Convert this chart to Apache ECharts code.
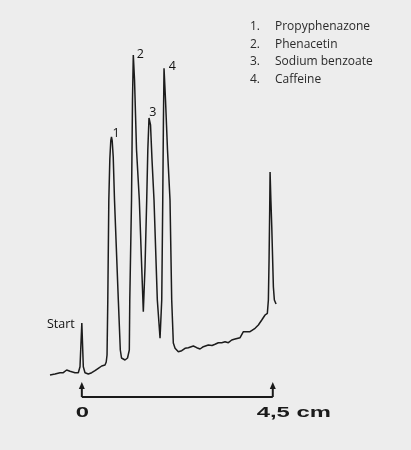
<!DOCTYPE html>
<html><head><meta charset="utf-8">
<script src="https://cdn.jsdelivr.net/npm/echarts@6/dist/echarts.min.js"></script>
<style>html,body{margin:0;padding:0;background:#ededed}#c{width:411px;height:450px}</style>
</head><body><div id="c"></div>
<script>
// migration distance (cm) and detector signal (arbitrary units)
const traceX = [-0.750,-0.632,-0.515,-0.437,-0.357,-0.279,-0.161,-0.083,-0.043,0.000,0.035,0.075,0.153,0.233,0.310,0.388,0.468,0.546,0.575,0.594,0.612,0.636,0.660,0.682,0.699,0.716,0.740,0.770,0.860,0.907,0.935,1.018,1.077,1.119,1.130,1.171,1.194,1.213,1.242,1.289,1.355,1.411,1.449,1.489,1.529,1.555,1.583,1.619,1.654,1.701,1.779,1.843,1.883,1.907,1.923,1.937,1.972,2.019,2.078,2.118,2.156,2.197,2.274,2.354,2.432,2.510,2.628,2.708,2.786,2.863,2.981,3.069,3.139,3.217,3.297,3.375,3.453,3.533,3.611,3.729,3.807,3.847,3.964,4.082,4.160,4.240,4.318,4.372,4.396,4.412,4.427,4.436,4.455,4.476,4.514,4.537,4.577];
const traceY = [22,23,24.3,24.3,27,25.7,24.3,24.3,30.3,74,30.3,24.3,23,24.3,26.3,28.7,31,32,35,42,97,197,238,256,260,256,240,197,97,47,39,37,39,47,97,197,297,342,317,247,197,130,85.3,130,197,247,279,272,237,197,97,58.7,97,197,277,328.7,297,247,197,97,54,48.7,45.3,46.3,48.7,49.3,51,49.3,48,50.3,52,51.5,52.7,54.3,54.3,55.3,54.3,57,58,59.3,65.3,64.3,65.3,68.7,72,77,82,83.7,97,137,187,225,197,170,110,97,93];
const peakIndex = [9, 24, 37, 46, 55];
const peakLabels = ['Start', '1', '2', '3', '4'];
const compoundNumbers = ['1.', '2.', '3.', '4.'];
const compoundNames = ['Propyphenazone', 'Phenacetin', 'Sodium benzoate', 'Caffeine'];
const scaleTicks = [0, 4.5];
const scaleTickLabels = ['0', '4,5'];
const scaleUnit = 'cm';

const chart = echarts.init(document.getElementById('c'), null, {renderer: 'canvas'});
const traceData = traceX.map((x, i) => [x, traceY[i]]);
const labelOffsets = [[-20.5, 2], [5.2, -3], [7.4, 0], [4.3, -5.3], [8.7, -1.6]];
const peakData = peakIndex.map((idx, k) => ({
  value: [traceX[idx], traceY[idx]],
  label: {show: true, formatter: peakLabels[k], position: labelOffsets[k], align: 'center', verticalAlign: 'middle'}
}));

const scaleFont = 'bold 14px "Liberation Sans"';
const stretch = 1.7;
const mctx = document.createElement('canvas').getContext('2d');
mctx.font = scaleFont;

function renderScale(params, api) {
  const x = api.value(0);
  const p = api.coord([x, 0]);
  const ink = '#1a1a1a';
  const children = [];
  if (params.dataIndex === 0) {
    const q = api.coord([scaleTicks[scaleTicks.length - 1], 0]);
    children.push({type: 'line', shape: {x1: p[0], y1: p[1], x2: q[0], y2: q[1]}, style: {stroke: ink, lineWidth: 2}});
  }
  children.push({type: 'line', shape: {x1: p[0], y1: p[1], x2: p[0], y2: p[1] - 9}, style: {stroke: ink, lineWidth: 2}});
  children.push({type: 'polygon', shape: {points: [[p[0] - 3, p[1] - 8], [p[0] + 3, p[1] - 8], [p[0], p[1] - 15]]}, style: {fill: ink}});
  const txt = scaleTickLabels[params.dataIndex];
  children.push({type: 'text', x: p[0] + 0.5, y: p[1] + 16, scaleX: stretch, style: {text: txt, x: 0, y: 0, font: scaleFont, fill: ink, align: 'center', verticalAlign: 'middle'}});
  if (params.dataIndex === scaleTicks.length - 1) {
    const w = mctx.measureText(txt).width * stretch / 2;
    children.push({type: 'text', x: p[0] + 0.5 + w, y: p[1] + 16, scaleX: stretch, style: {text: ' ' + scaleUnit, x: 0, y: 0, font: scaleFont, fill: ink, align: 'left', verticalAlign: 'middle'}});
  }
  return {type: 'group', children};
}

const legendText = compoundNames.map((n, i) => '{n|' + compoundNumbers[i] + '}{t|' + n + '}').join('\n');

chart.setOption({
  backgroundColor: '#ededed',
  animation: false,
  title: {
    left: 250, top: 18, padding: 0, text: legendText,
    textStyle: {
      fontFamily: 'Open Sans', fontSize: 12, fontWeight: 'normal', color: '#2a2a2a', lineHeight: 17.5,
      rich: {
        n: {width: 25, fontFamily: 'Open Sans', fontSize: 12, color: '#2a2a2a', lineHeight: 17.5},
        t: {fontFamily: 'Open Sans', fontSize: 12, color: '#2a2a2a', lineHeight: 17.5}
      }
    }
  },
  grid: {left: 50, right: 127.6, top: 37, bottom: 53},
  xAxis: {type: 'value', min: -0.75, max: 4.75, show: false},
  yAxis: {type: 'value', min: 0, max: 360, show: false},
  series: [
    {type: 'line', data: traceData, showSymbol: false, symbol: 'none', lineStyle: {color: '#1c1c1c', width: 1.5}, clip: false, z: 3},
    {type: 'scatter', data: peakData, symbolSize: 1, itemStyle: {color: 'rgba(0,0,0,0)'},
     label: {fontFamily: 'Open Sans', fontSize: 12.5, color: '#111', opacity: 1}, emphasis: {disabled: true}, z: 4},
    {type: 'custom', data: scaleTicks.map(v => [v]), renderItem: renderScale, clip: false, z: 5}
  ]
});
</script></body></html>
